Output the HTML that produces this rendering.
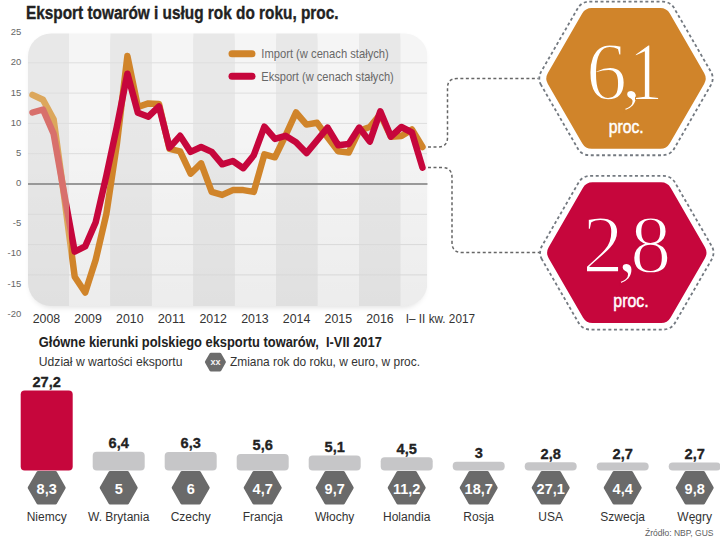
<!DOCTYPE html>
<html><head><meta charset="utf-8"><style>html,body{margin:0;padding:0;background:#fff;}svg{display:block}</style></head>
<body><svg width="720" height="540" viewBox="0 0 720 540">
<rect width="720" height="540" fill="#fff"/>
<defs>
<clipPath id="cc"><rect x="28" y="33.5" width="399.5" height="272.5" rx="23" ry="23"/></clipPath>
<linearGradient id="fade" x1="0" y1="0" x2="0" y2="1"><stop offset="0" stop-color="#000" stop-opacity="0"/><stop offset="0.3" stop-color="#000" stop-opacity="0"/><stop offset="1" stop-color="#000" stop-opacity="0.035"/></linearGradient>
<filter id="sh" x="-10%" y="-10%" width="120%" height="130%"><feGaussianBlur stdDeviation="2.5"/></filter>
</defs>
<rect x="30" y="37" width="395" height="271" rx="22" ry="22" fill="#000" fill-opacity="0.10" filter="url(#sh)"/>
<g clip-path="url(#cc)">
<rect x="28" y="33" width="41.0" height="273" fill="#e8e8e8"/>
<rect x="69" y="33" width="41.4" height="273" fill="#f5f5f5"/>
<rect x="110.4" y="33" width="41.5" height="273" fill="#e8e8e8"/>
<rect x="151.9" y="33" width="41.4" height="273" fill="#f5f5f5"/>
<rect x="193.3" y="33" width="41.5" height="273" fill="#e8e8e8"/>
<rect x="234.8" y="33" width="41.4" height="273" fill="#f5f5f5"/>
<rect x="276.2" y="33" width="41.4" height="273" fill="#e8e8e8"/>
<rect x="317.6" y="33" width="41.5" height="273" fill="#f5f5f5"/>
<rect x="359.1" y="33" width="41.4" height="273" fill="#e8e8e8"/>
<rect x="400.5" y="33" width="26.5" height="273" fill="#f5f5f5"/>
<rect x="28" y="62.3" width="399" height="1" fill="#dedede"/>
<rect x="28" y="92.6" width="399" height="1" fill="#dedede"/>
<rect x="28" y="122.9" width="399" height="1" fill="#dedede"/>
<rect x="28" y="153.2" width="399" height="1" fill="#dedede"/>
<rect x="28" y="213.8" width="399" height="1" fill="#dedede"/>
<rect x="28" y="244.1" width="399" height="1" fill="#dedede"/>
<rect x="28" y="274.4" width="399" height="1" fill="#dedede"/>
<rect x="28" y="183.1" width="400" height="1.8" fill="#929292"/>
<rect x="28" y="33" width="399" height="273" fill="url(#fade)"/>
</g>
<line x1="232" y1="53.8" x2="252" y2="53.8" stroke="#d0842a" stroke-width="7" stroke-linecap="round"/>
<line x1="232" y1="76.3" x2="252" y2="76.3" stroke="#c6063c" stroke-width="7" stroke-linecap="round"/>
<text x="261.3" y="57.5" font-family="Liberation Sans, sans-serif" font-size="13" fill="#686868" textLength="127.5" lengthAdjust="spacingAndGlyphs">Import (w cenach stałych)</text>
<text x="261.3" y="81.2" font-family="Liberation Sans, sans-serif" font-size="13" fill="#686868" textLength="132.5" lengthAdjust="spacingAndGlyphs">Eksport (w cenach stałych)</text>
<clipPath id="cl"><rect x="0" y="0" width="69" height="540"/></clipPath><clipPath id="cr"><rect x="69" y="0" width="651" height="540"/></clipPath>
<polyline clip-path="url(#cr)" points="32.5,94.9 43.0,99.8 53.6,119.2 64.1,196.1 74.7,276.7 85.2,292.5 95.7,259.8 106.3,214.3 116.8,144.6 127.4,56.1 137.9,107.0 148.4,103.4 159.0,104.0 169.5,148.9 180.1,151.3 190.6,173.7 201.1,163.4 211.7,191.9 222.2,194.9 232.8,190.1 243.3,190.1 253.8,191.9 264.4,154.3 274.9,157.3 285.5,135.5 296.0,112.5 306.5,124.6 317.1,122.8 327.6,137.3 338.2,151.3 348.7,152.5 359.2,130.7 369.8,127.0 380.3,114.3 390.9,136.7 401.4,136.1 411.9,129.5 422.5,147.0" fill="none" stroke="#d0842a" stroke-width="6.5" stroke-linejoin="round" stroke-linecap="round"/>
<polyline clip-path="url(#cr)" points="32.5,112.5 43.0,109.5 53.6,133.7 64.1,193.1 74.7,251.6 85.2,246.4 95.7,222.2 106.3,176.1 116.8,127.0 127.4,73.7 137.9,112.8 148.4,116.7 159.0,106.4 169.5,147.6 180.1,135.8 190.6,151.9 201.1,147.0 211.7,151.9 222.2,164.3 232.8,161.0 243.3,168.2 253.8,155.2 264.4,126.7 274.9,138.9 285.5,135.8 296.0,142.2 306.5,153.1 317.1,140.4 327.6,127.6 338.2,145.2 348.7,144.0 359.2,127.6 369.8,141.6 380.3,111.3 390.9,136.7 401.4,127.0 411.9,132.5 422.5,167.6" fill="none" stroke="#c6063c" stroke-width="6.5" stroke-linejoin="round" stroke-linecap="round"/>
<polyline clip-path="url(#cl)" points="32.5,94.9 43.0,99.8 53.6,119.2 64.1,196.1 74.7,276.7 85.2,292.5 95.7,259.8 106.3,214.3 116.8,144.6 127.4,56.1 137.9,107.0 148.4,103.4 159.0,104.0 169.5,148.9 180.1,151.3 190.6,173.7 201.1,163.4 211.7,191.9 222.2,194.9 232.8,190.1 243.3,190.1 253.8,191.9 264.4,154.3 274.9,157.3 285.5,135.5 296.0,112.5 306.5,124.6 317.1,122.8 327.6,137.3 338.2,151.3 348.7,152.5 359.2,130.7 369.8,127.0 380.3,114.3 390.9,136.7 401.4,136.1 411.9,129.5 422.5,147.0" fill="none" stroke="#dca75c" stroke-width="6.5" stroke-linejoin="round" stroke-linecap="round"/>
<polyline clip-path="url(#cl)" points="32.5,112.5 43.0,109.5 53.6,133.7 64.1,193.1 74.7,251.6 85.2,246.4 95.7,222.2 106.3,176.1 116.8,127.0 127.4,73.7 137.9,112.8 148.4,116.7 159.0,106.4 169.5,147.6 180.1,135.8 190.6,151.9 201.1,147.0 211.7,151.9 222.2,164.3 232.8,161.0 243.3,168.2 253.8,155.2 264.4,126.7 274.9,138.9 285.5,135.8 296.0,142.2 306.5,153.1 317.1,140.4 327.6,127.6 338.2,145.2 348.7,144.0 359.2,127.6 369.8,141.6 380.3,111.3 390.9,136.7 401.4,127.0 411.9,132.5 422.5,167.6" fill="none" stroke="#d8706c" stroke-width="6.5" stroke-linejoin="round" stroke-linecap="round"/>
<text x="21.3" y="35.0" font-family="Liberation Sans, sans-serif" font-size="9.5" fill="#666" text-anchor="end">25</text>
<text x="21.3" y="65.4" font-family="Liberation Sans, sans-serif" font-size="9.5" fill="#666" text-anchor="end">20</text>
<text x="21.3" y="95.7" font-family="Liberation Sans, sans-serif" font-size="9.5" fill="#666" text-anchor="end">15</text>
<text x="21.3" y="125.6" font-family="Liberation Sans, sans-serif" font-size="9.5" fill="#666" text-anchor="end">10</text>
<text x="21.3" y="155.6" font-family="Liberation Sans, sans-serif" font-size="9.5" fill="#666" text-anchor="end">5</text>
<text x="21.3" y="186.2" font-family="Liberation Sans, sans-serif" font-size="9.5" fill="#666" text-anchor="end">0</text>
<text x="21.3" y="225.6" font-family="Liberation Sans, sans-serif" font-size="9.5" fill="#666" text-anchor="end">-5</text>
<text x="21.3" y="256.1" font-family="Liberation Sans, sans-serif" font-size="9.5" fill="#666" text-anchor="end">-10</text>
<text x="21.3" y="286.7" font-family="Liberation Sans, sans-serif" font-size="9.5" fill="#666" text-anchor="end">-15</text>
<text x="21.3" y="316.7" font-family="Liberation Sans, sans-serif" font-size="9.5" fill="#666" text-anchor="end">-20</text>
<text x="46.4" y="322.7" font-family="Liberation Sans, sans-serif" font-size="12.4" fill="#333" text-anchor="middle" textLength="27.5" lengthAdjust="spacingAndGlyphs">2008</text>
<text x="88.1" y="322.7" font-family="Liberation Sans, sans-serif" font-size="12.4" fill="#333" text-anchor="middle" textLength="27.5" lengthAdjust="spacingAndGlyphs">2009</text>
<text x="129.8" y="322.7" font-family="Liberation Sans, sans-serif" font-size="12.4" fill="#333" text-anchor="middle" textLength="27.5" lengthAdjust="spacingAndGlyphs">2010</text>
<text x="171.5" y="322.7" font-family="Liberation Sans, sans-serif" font-size="12.4" fill="#333" text-anchor="middle" textLength="27.5" lengthAdjust="spacingAndGlyphs">2011</text>
<text x="213.2" y="322.7" font-family="Liberation Sans, sans-serif" font-size="12.4" fill="#333" text-anchor="middle" textLength="27.5" lengthAdjust="spacingAndGlyphs">2012</text>
<text x="254.9" y="322.7" font-family="Liberation Sans, sans-serif" font-size="12.4" fill="#333" text-anchor="middle" textLength="27.5" lengthAdjust="spacingAndGlyphs">2013</text>
<text x="296.6" y="322.7" font-family="Liberation Sans, sans-serif" font-size="12.4" fill="#333" text-anchor="middle" textLength="27.5" lengthAdjust="spacingAndGlyphs">2014</text>
<text x="338.3" y="322.7" font-family="Liberation Sans, sans-serif" font-size="12.4" fill="#333" text-anchor="middle" textLength="27.5" lengthAdjust="spacingAndGlyphs">2015</text>
<text x="380.0" y="322.7" font-family="Liberation Sans, sans-serif" font-size="12.4" fill="#333" text-anchor="middle" textLength="27.5" lengthAdjust="spacingAndGlyphs">2016</text>
<text x="405.8" y="322.7" font-family="Liberation Sans, sans-serif" font-size="12.4" fill="#333" textLength="69.2" lengthAdjust="spacingAndGlyphs">I– II kw. 2017</text>
<text x="26.0" y="19.2" font-family="Liberation Sans, sans-serif" font-size="17.5" font-weight="bold" fill="#222" stroke="#222" stroke-width="0.35" textLength="312.5" lengthAdjust="spacingAndGlyphs">Eksport towarów i usług rok do roku, proc.</text>
<path d="M428,147 H438 Q447.5,147 447.5,137.5 V88 Q447.5,78.5 457,78.5 H538.5" fill="none" stroke="#666" stroke-width="1.5" stroke-dasharray="3,2.5"/>
<path d="M428,167.5 H442 Q452,167.5 452,177.5 V242.5 Q452,252.5 462,252.5 H540" fill="none" stroke="#666" stroke-width="1.5" stroke-dasharray="3,2.5"/>
<path d="M541.04,84.90 A13,13 0 0 1 541.04,71.90 L577.89,8.07 A13,13 0 0 1 589.15,1.57 L662.85,1.57 A13,13 0 0 1 674.11,8.07 L710.96,71.90 A13,13 0 0 1 710.96,84.90 L674.11,148.73 A13,13 0 0 1 662.85,155.23 L589.15,155.23 A13,13 0 0 1 577.89,148.73 Z" fill="none" stroke="#737980" stroke-width="1.8" stroke-dasharray="3,2.6"/>
<path d="M547.87,83.90 A11,11 0 0 1 547.87,72.90 L582.17,13.49 A11,11 0 0 1 591.70,7.99 L660.30,7.99 A11,11 0 0 1 669.83,13.49 L704.13,72.90 A11,11 0 0 1 704.13,83.90 L669.83,143.31 A11,11 0 0 1 660.30,148.81 L591.70,148.81 A11,11 0 0 1 582.17,143.31 Z" fill="#d0842a"/>
<path d="M541.84,259.20 A13,13 0 0 1 541.84,246.20 L578.69,182.37 A13,13 0 0 1 589.95,175.87 L663.65,175.87 A13,13 0 0 1 674.91,182.37 L711.76,246.20 A13,13 0 0 1 711.76,259.20 L674.91,323.03 A13,13 0 0 1 663.65,329.53 L589.95,329.53 A13,13 0 0 1 578.69,323.03 Z" fill="none" stroke="#737980" stroke-width="1.8" stroke-dasharray="3,2.6"/>
<path d="M548.67,258.20 A11,11 0 0 1 548.67,247.20 L582.97,187.79 A11,11 0 0 1 592.50,182.29 L661.10,182.29 A11,11 0 0 1 670.63,187.79 L704.93,247.20 A11,11 0 0 1 704.93,258.20 L670.63,317.61 A11,11 0 0 1 661.10,323.11 L592.50,323.11 A11,11 0 0 1 582.97,317.61 Z" fill="#c6063c"/>
<text x="585.9" y="98.6" font-family="Liberation Serif, serif" font-size="82" fill="#fff" stroke="#d0842a" stroke-width="1.8">6</text>
<text x="621.5" y="98.6" font-family="Liberation Serif, serif" font-size="82" fill="#fff" stroke="#d0842a" stroke-width="1.8">,</text>
<text x="625.5" y="98.6" font-family="Liberation Serif, serif" font-size="82" fill="#fff" stroke="#d0842a" stroke-width="1.2" transform="translate(647,0) scale(0.8,1) translate(-647,0)">1</text>
<text x="582.4" y="271.8" font-family="Liberation Serif, serif" font-size="82" fill="#fff" stroke="#c6063c" stroke-width="1.8">2</text>
<text x="617" y="271.8" font-family="Liberation Serif, serif" font-size="82" fill="#fff" stroke="#c6063c" stroke-width="1.8">,</text>
<text x="630.3" y="271.8" font-family="Liberation Serif, serif" font-size="82" fill="#fff" stroke="#c6063c" stroke-width="1.8">8</text>
<text x="608.7" y="132.9" font-family="Liberation Sans, sans-serif" font-size="19" fill="#fff" stroke="#fff" stroke-width="0.5" textLength="35" lengthAdjust="spacingAndGlyphs">proc.</text>
<text x="613.3" y="307.1" font-family="Liberation Sans, sans-serif" font-size="19" fill="#fff" stroke="#fff" stroke-width="0.5" textLength="35.4" lengthAdjust="spacingAndGlyphs">proc.</text>
<text x="38.8" y="347" font-family="Liberation Sans, sans-serif" font-size="15" font-weight="bold" fill="#222" textLength="343" lengthAdjust="spacingAndGlyphs">Główne kierunki polskiego eksportu towarów,&#160; I-VII 2017</text>
<text x="38.8" y="366.3" font-family="Liberation Sans, sans-serif" font-size="12.2" fill="#333" textLength="143.7" lengthAdjust="spacingAndGlyphs">Udział w wartości eksportu</text>
<path d="M206.4,362.1 L210.9,354.3 L219.9,354.3 L224.4,362.1 L219.9,369.9 L210.9,369.9 Z" fill="#6c6c6c" stroke="#6c6c6c" stroke-width="3" stroke-linejoin="round"/>
<text x="215.4" y="365.3" font-family="Liberation Sans, sans-serif" font-size="9" font-weight="bold" fill="#f4f4f4" text-anchor="middle">xx</text>
<text x="230" y="366.3" font-family="Liberation Sans, sans-serif" font-size="12.2" fill="#333" textLength="190" lengthAdjust="spacingAndGlyphs">Zmiana rok do roku, w euro, w proc.</text>
<rect x="20.7" y="390.5" width="52" height="80.0" rx="4" fill="#c6063c"/>
<text x="46.7" y="386.7" font-family="Liberation Sans, sans-serif" font-size="14.6" font-weight="bold" fill="#222" stroke="#222" stroke-width="0.3" text-anchor="middle">27,2</text>
<path d="M29.2,487.7 L38.0,472.5 L55.5,472.5 L64.2,487.7 L55.5,502.9 L38.0,502.9 Z" fill="#6a6a6a" stroke="#6a6a6a" stroke-width="3" stroke-linejoin="round"/>
<text x="46.7" y="493.5" font-family="Liberation Sans, sans-serif" font-size="14.5" font-weight="bold" fill="#fff" text-anchor="middle">8,3</text>
<text x="46.7" y="520.8" font-family="Liberation Sans, sans-serif" font-size="12" fill="#333" text-anchor="middle">Niemcy</text>
<rect x="92.7" y="451.7" width="52" height="18.8" rx="4" fill="#c6c6c8"/>
<text x="118.7" y="447.9" font-family="Liberation Sans, sans-serif" font-size="14.6" font-weight="bold" fill="#222" stroke="#222" stroke-width="0.3" text-anchor="middle">6,4</text>
<path d="M101.2,487.7 L110.0,472.5 L127.5,472.5 L136.2,487.7 L127.5,502.9 L110.0,502.9 Z" fill="#6a6a6a" stroke="#6a6a6a" stroke-width="3" stroke-linejoin="round"/>
<text x="118.7" y="493.5" font-family="Liberation Sans, sans-serif" font-size="14.5" font-weight="bold" fill="#fff" text-anchor="middle">5</text>
<text x="118.7" y="520.8" font-family="Liberation Sans, sans-serif" font-size="12" fill="#333" text-anchor="middle">W. Brytania</text>
<rect x="164.7" y="452.0" width="52" height="18.5" rx="4" fill="#c6c6c8"/>
<text x="190.7" y="448.2" font-family="Liberation Sans, sans-serif" font-size="14.6" font-weight="bold" fill="#222" stroke="#222" stroke-width="0.3" text-anchor="middle">6,3</text>
<path d="M173.2,487.7 L181.9,472.5 L199.4,472.5 L208.2,487.7 L199.4,502.9 L181.9,502.9 Z" fill="#6a6a6a" stroke="#6a6a6a" stroke-width="3" stroke-linejoin="round"/>
<text x="190.7" y="493.5" font-family="Liberation Sans, sans-serif" font-size="14.5" font-weight="bold" fill="#fff" text-anchor="middle">6</text>
<text x="190.7" y="520.8" font-family="Liberation Sans, sans-serif" font-size="12" fill="#333" text-anchor="middle">Czechy</text>
<rect x="236.7" y="454.0" width="52" height="16.5" rx="4" fill="#c6c6c8"/>
<text x="262.7" y="450.2" font-family="Liberation Sans, sans-serif" font-size="14.6" font-weight="bold" fill="#222" stroke="#222" stroke-width="0.3" text-anchor="middle">5,6</text>
<path d="M245.2,487.7 L253.9,472.5 L271.4,472.5 L280.2,487.7 L271.4,502.9 L253.9,502.9 Z" fill="#6a6a6a" stroke="#6a6a6a" stroke-width="3" stroke-linejoin="round"/>
<text x="262.7" y="493.5" font-family="Liberation Sans, sans-serif" font-size="14.5" font-weight="bold" fill="#fff" text-anchor="middle">4,7</text>
<text x="262.7" y="520.8" font-family="Liberation Sans, sans-serif" font-size="12" fill="#333" text-anchor="middle">Francja</text>
<rect x="308.7" y="455.5" width="52" height="15.0" rx="4" fill="#c6c6c8"/>
<text x="334.7" y="451.7" font-family="Liberation Sans, sans-serif" font-size="14.6" font-weight="bold" fill="#222" stroke="#222" stroke-width="0.3" text-anchor="middle">5,1</text>
<path d="M317.2,487.7 L325.9,472.5 L343.4,472.5 L352.2,487.7 L343.4,502.9 L325.9,502.9 Z" fill="#6a6a6a" stroke="#6a6a6a" stroke-width="3" stroke-linejoin="round"/>
<text x="334.7" y="493.5" font-family="Liberation Sans, sans-serif" font-size="14.5" font-weight="bold" fill="#fff" text-anchor="middle">9,7</text>
<text x="334.7" y="520.8" font-family="Liberation Sans, sans-serif" font-size="12" fill="#333" text-anchor="middle">Włochy</text>
<rect x="380.7" y="457.3" width="52" height="13.2" rx="4" fill="#c6c6c8"/>
<text x="406.7" y="453.5" font-family="Liberation Sans, sans-serif" font-size="14.6" font-weight="bold" fill="#222" stroke="#222" stroke-width="0.3" text-anchor="middle">4,5</text>
<path d="M389.2,487.7 L397.9,472.5 L415.4,472.5 L424.2,487.7 L415.4,502.9 L397.9,502.9 Z" fill="#6a6a6a" stroke="#6a6a6a" stroke-width="3" stroke-linejoin="round"/>
<text x="406.7" y="493.5" font-family="Liberation Sans, sans-serif" font-size="14.5" font-weight="bold" fill="#fff" text-anchor="middle">11,2</text>
<text x="406.7" y="520.8" font-family="Liberation Sans, sans-serif" font-size="12" fill="#333" text-anchor="middle">Holandia</text>
<rect x="452.7" y="461.7" width="52" height="8.8" rx="4" fill="#c6c6c8"/>
<text x="478.7" y="457.9" font-family="Liberation Sans, sans-serif" font-size="14.6" font-weight="bold" fill="#222" stroke="#222" stroke-width="0.3" text-anchor="middle">3</text>
<path d="M461.2,487.7 L469.9,472.5 L487.4,472.5 L496.2,487.7 L487.4,502.9 L469.9,502.9 Z" fill="#6a6a6a" stroke="#6a6a6a" stroke-width="3" stroke-linejoin="round"/>
<text x="478.7" y="493.5" font-family="Liberation Sans, sans-serif" font-size="14.5" font-weight="bold" fill="#fff" text-anchor="middle">18,7</text>
<text x="478.7" y="520.8" font-family="Liberation Sans, sans-serif" font-size="12" fill="#333" text-anchor="middle">Rosja</text>
<rect x="524.7" y="462.3" width="52" height="8.2" rx="4" fill="#c6c6c8"/>
<text x="550.7" y="458.5" font-family="Liberation Sans, sans-serif" font-size="14.6" font-weight="bold" fill="#222" stroke="#222" stroke-width="0.3" text-anchor="middle">2,8</text>
<path d="M533.2,487.7 L542.0,472.5 L559.5,472.5 L568.2,487.7 L559.5,502.9 L542.0,502.9 Z" fill="#6a6a6a" stroke="#6a6a6a" stroke-width="3" stroke-linejoin="round"/>
<text x="550.7" y="493.5" font-family="Liberation Sans, sans-serif" font-size="14.5" font-weight="bold" fill="#fff" text-anchor="middle">27,1</text>
<text x="550.7" y="520.8" font-family="Liberation Sans, sans-serif" font-size="12" fill="#333" text-anchor="middle">USA</text>
<rect x="596.7" y="462.6" width="52" height="7.9" rx="4" fill="#c6c6c8"/>
<text x="622.7" y="458.8" font-family="Liberation Sans, sans-serif" font-size="14.6" font-weight="bold" fill="#222" stroke="#222" stroke-width="0.3" text-anchor="middle">2,7</text>
<path d="M605.2,487.7 L614.0,472.5 L631.5,472.5 L640.2,487.7 L631.5,502.9 L614.0,502.9 Z" fill="#6a6a6a" stroke="#6a6a6a" stroke-width="3" stroke-linejoin="round"/>
<text x="622.7" y="493.5" font-family="Liberation Sans, sans-serif" font-size="14.5" font-weight="bold" fill="#fff" text-anchor="middle">4,4</text>
<text x="622.7" y="520.8" font-family="Liberation Sans, sans-serif" font-size="12" fill="#333" text-anchor="middle">Szwecja</text>
<rect x="668.7" y="462.6" width="52" height="7.9" rx="4" fill="#c6c6c8"/>
<text x="694.7" y="458.8" font-family="Liberation Sans, sans-serif" font-size="14.6" font-weight="bold" fill="#222" stroke="#222" stroke-width="0.3" text-anchor="middle">2,7</text>
<path d="M677.2,487.7 L686.0,472.5 L703.5,472.5 L712.2,487.7 L703.5,502.9 L686.0,502.9 Z" fill="#6a6a6a" stroke="#6a6a6a" stroke-width="3" stroke-linejoin="round"/>
<text x="694.7" y="493.5" font-family="Liberation Sans, sans-serif" font-size="14.5" font-weight="bold" fill="#fff" text-anchor="middle">9,8</text>
<text x="694.7" y="520.8" font-family="Liberation Sans, sans-serif" font-size="12" fill="#333" text-anchor="middle">Węgry</text>
<text x="645" y="536.3" font-family="Liberation Sans, sans-serif" font-size="9.2" fill="#606060" textLength="68.5" lengthAdjust="spacingAndGlyphs">Źródło: NBP, GUS</text>
</svg></body></html>
